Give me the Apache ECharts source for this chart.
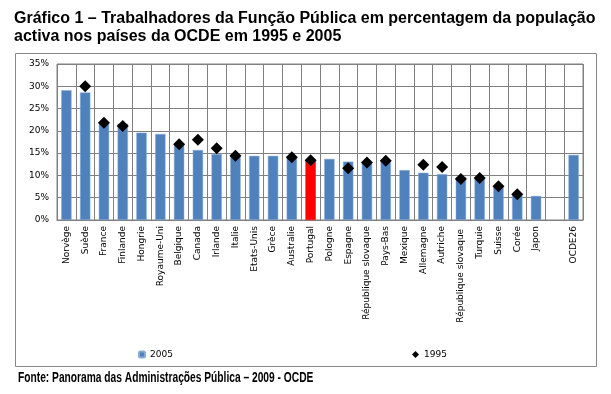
<!DOCTYPE html>
<html><head><meta charset="utf-8">
<script src="https://cdn.jsdelivr.net/npm/echarts@6/dist/echarts.min.js"></script>
<style>html,body{margin:0;padding:0;background:#fff}#c{width:611px;height:394px}</style>
</head><body><div id="c"></div>
<script>
const categories = ['Norvège','Suède','France','Finlande','Hongrie','Royaume-Uni','Belgique','Canada','Irlande','Italie','Etats-Unis','Grèce','Australie','Portugal','Pologne','Espagne','République slovaque','Pays-Bas','Mexique','Allemagne','Autriche','République slovaque ','Turquie','Suisse','Corée','Japon','','OCDE26'];
const values2005 = [29.1,28.6,21.8,21.6,19.6,19.3,17.1,15.7,14.8,14.4,14.4,14.4,14.2,13.5,13.7,13.1,12.7,13.1,11.2,10.6,10.3,9.7,9.4,7.4,5.8,5.4,null,14.6];
const values1995 = [null,30.0,21.8,21.1,null,null,17.0,18.0,16.1,14.4,null,null,14.1,13.4,null,11.6,12.9,13.3,null,12.4,11.9,9.2,9.4,7.6,5.8,null,null,null];
const yTicks = [0,5,10,15,20,25,30,35];
const highlight = 'Portugal';

const chart = echarts.init(document.getElementById('c'), null, {renderer:'canvas'});
chart.setOption({
  animation:false,
  backgroundColor:'#fff',
  title:{
    text:'Gráfico 1 – Trabalhadores da Função Pública em percentagem da população\nactiva nos países da OCDE em 1995 e 2005',
    left:9, top:5,
    textStyle:{fontFamily:'Liberation Sans, Arial, sans-serif',fontWeight:'bold',fontSize:16,color:'#000',lineHeight:18}
  },
  graphic:[
    {type:'rect',shape:{x:15.5,y:53.5,width:581,height:313},style:{fill:'none',stroke:'#888',lineWidth:1}},
    {type:'text',x:18,y:371,scaleX:0.73,style:{text:'Fonte: Panorama das Administrações Pública – 2009 - OCDE',font:'bold 14px "Liberation Sans", Arial',fill:'#000'}}
  ],
  legend:[
    {data:['2005'],left:133,top:345,itemWidth:6,itemHeight:6,itemGap:4,textStyle:{fontSize:9,fontFamily:'DejaVu Sans, sans-serif',color:'#000'}},
    {data:['1995'],left:407,top:345,itemWidth:7,itemHeight:7,itemGap:4,textStyle:{fontSize:9,fontFamily:'DejaVu Sans, sans-serif',color:'#000'}}
  ],
  grid:{left:57,right:28,top:64,bottom:174,show:true,borderColor:'#808080',borderWidth:1},
  xAxis:{
    type:'category',data:categories,boundaryGap:true,
    axisLine:{lineStyle:{color:'#808080'}},
    axisTick:{show:false},
    splitLine:{show:true,interval:0,lineStyle:{color:'#808080',width:1}},
    axisLabel:{interval:0,rotate:90,fontSize:9,color:'#000',fontFamily:'DejaVu Sans, sans-serif',margin:6}
  },
  yAxis:{
    type:'value',min:0,max:35,interval:5,
    axisLine:{show:false},axisTick:{show:false},
    splitLine:{lineStyle:{color:'#808080',width:1}},
    axisLabel:{formatter:v=>yTicks.includes(v)?v+'%':'',fontSize:9,color:'#000',fontFamily:'DejaVu Sans, sans-serif',margin:8}
  },
  series:[
    {name:'2005',type:'bar',barWidth:'55%',
     itemStyle:{color:'#4F81BD',borderColor:'#8AAAD6',borderWidth:0.5},
     data:values2005.map((v,i)=>categories[i]===highlight?{value:v,itemStyle:{color:'#FF0000',borderColor:'#FF0000'}}:v)},
    {name:'1995',type:'scatter',symbol:'diamond',symbolSize:12,itemStyle:{color:'#000',opacity:1},data:values1995}
  ]
});
</script></body></html>
